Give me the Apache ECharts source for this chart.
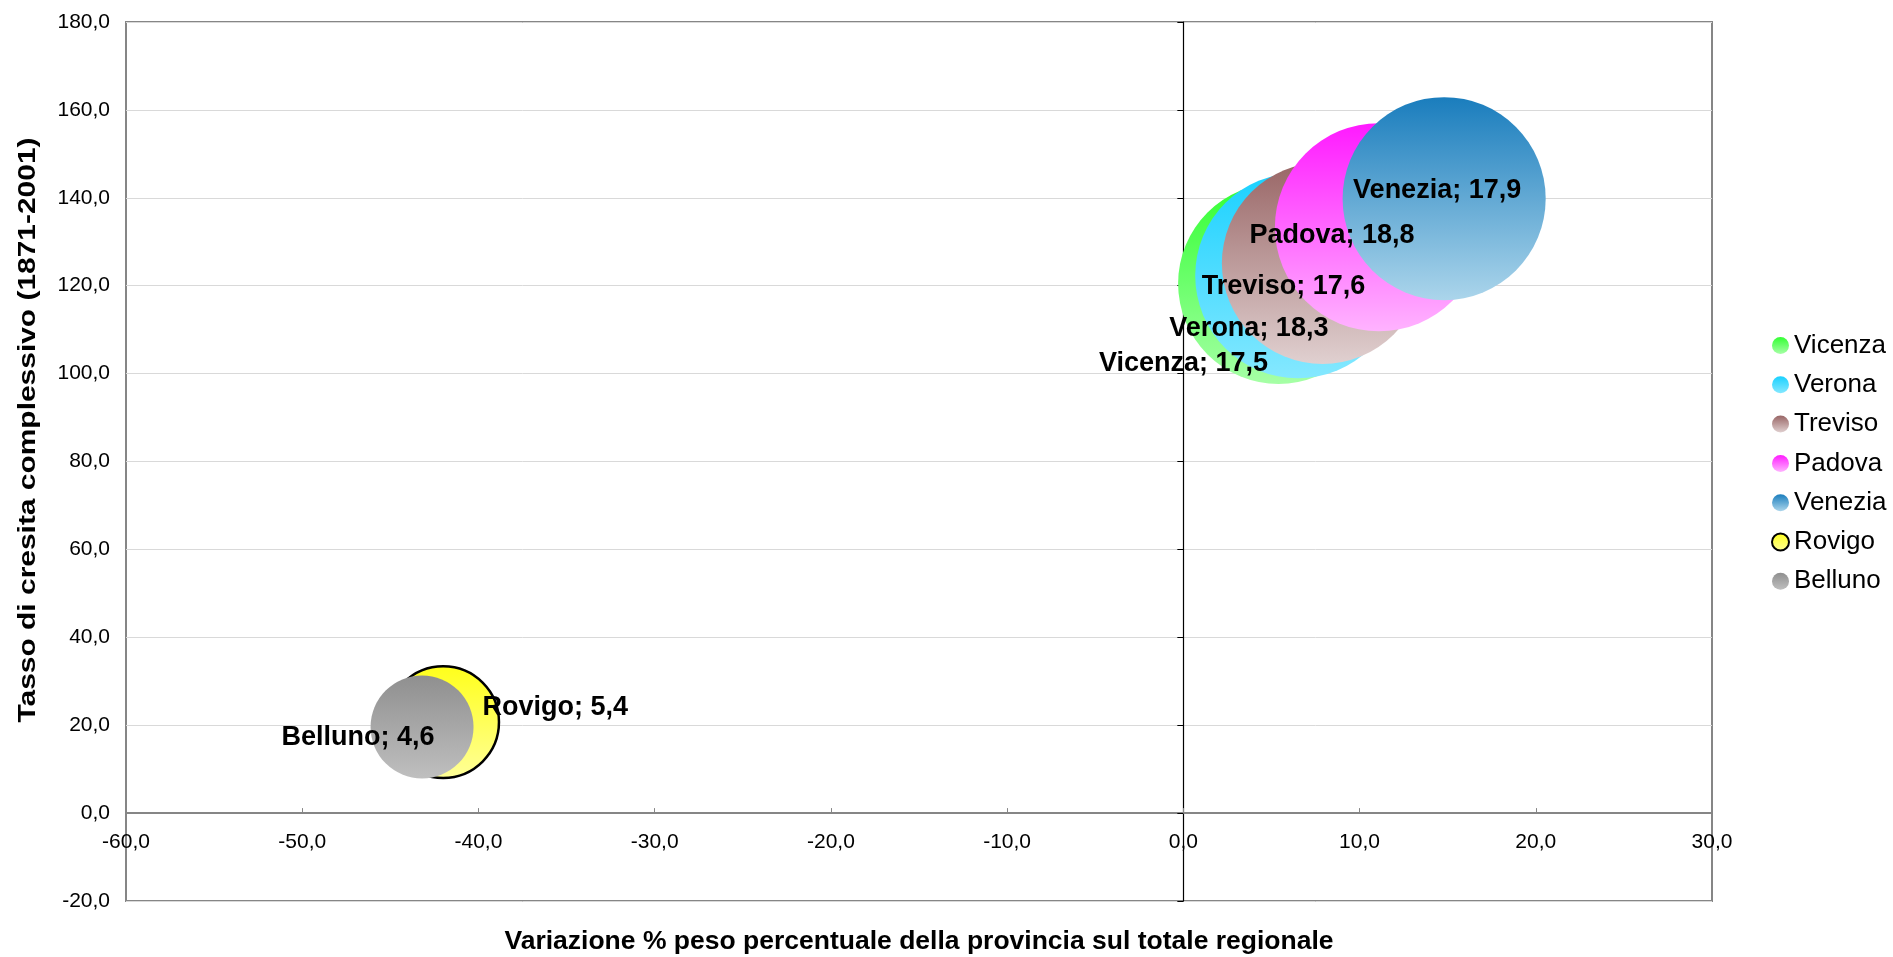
<!DOCTYPE html>
<html>
<head>
<meta charset="utf-8">
<script src="https://cdn.jsdelivr.net/npm/echarts@6/dist/echarts.min.js"></script>
<style>
html,body{margin:0;padding:0;background:#fff;}
#chart{width:1893px;height:957px;}
</style>
</head>
<body>
<div id="chart"></div>
<script>
// ---- data ----
const provinces = ['Vicenza', 'Verona', 'Treviso', 'Padova', 'Venezia', 'Rovigo', 'Belluno'];
const variazione = [5.4, 6.5, 7.9, 11.1, 14.8, -42.0, -43.2];   // x
const tasso = [120.5, 122.3, 125.1, 133.3, 139.8, 20.7, 19.6];  // y
const peso = [17.5, 18.3, 17.6, 18.8, 17.9, 5.4, 4.6];          // bubble size
const xAxisRange = [-60, 30, 10];
const yAxisRange = [-20, 180, 20];
const xTitle = 'Variazione % peso percentuale della provincia sul totale regionale';
const yTitle = 'Tasso di cresita complessivo (1871-2001)';

// ---- styles ----
const FONT = '"Liberation Sans", Arial, sans-serif';
const gradColors = [
  ['#33ff33', '#a6ffa6'],
  ['#1ad1ff', '#85e8ff'],
  ['#996666', '#e0d0d0'],
  ['#ff1aff', '#ffb3ff'],
  ['#1a7dbd', '#abd5eb'],
  ['#ffff1a', '#ffff99'],
  ['#8f8f8f', '#bfbfbf']
];
const borders = [null, null, null, null, null, {color: '#000', width: 2.5}, null];
const labelOffsets = [[-95, 80], [-49, 53], [-39, 23], [-47, 8], [-7, -8], [112, -15], [-64, 11]];
const bubbleK = 48;
const GRID = {left: 126, right: 181, top: 22, bottom: 56};
const CHART_W = 1893, CHART_H = 957;

function fmt(v) { return v.toFixed(1).replace('.', ','); }
function grad(c) {
  return new echarts.graphic.LinearGradient(0, 0, 0, 1, [
    {offset: 0, color: c[0]}, {offset: 1, color: c[1]}
  ]);
}

const series = provinces.map((name, i) => ({
  name: name,
  type: 'scatter',
  xAxisIndex: 0,
  yAxisIndex: 0,
  symbol: 'circle',
  symbolSize: (val) => bubbleK * Math.sqrt(val[2]),
  data: [[variazione[i], tasso[i], peso[i]]],
  itemStyle: Object.assign({color: grad(gradColors[i]), opacity: 1},
    borders[i] ? {borderColor: borders[i].color, borderWidth: borders[i].width} : {borderWidth: 0}),
  emphasis: {disabled: true},
  z: 2 + i
}));

series.push({
  name: 'labels',
  type: 'scatter',
  symbolSize: 1,
  silent: true,
  z: 20,
  itemStyle: {color: 'rgba(255,255,255,0)', opacity: 1},
  emphasis: {disabled: true},
  data: provinces.map((name, i) => ({
    value: [variazione[i], tasso[i], peso[i]],
    name: name,
    label: {offset: labelOffsets[i]}
  })),
  label: {
    show: true,
    position: 'inside',
    formatter: (p) => p.name + '; ' + fmt(p.value[2]),
    fontFamily: FONT,
    fontWeight: 'bold',
    fontSize: 27,
    color: '#000',
    opacity: 1,
    textBorderWidth: 0
  }
});

// distance from the x axis at y=0 to the plot bottom, so the tick labels sit under the zero line
const plotH = CHART_H - GRID.top - GRID.bottom;
const zeroToBottom = plotH * (0 - yAxisRange[0]) / (yAxisRange[1] - yAxisRange[0]);

const chart = echarts.init(document.getElementById('chart'), null, {renderer: 'canvas'});
chart.setOption({
  animation: false,
  backgroundColor: '#fff',
  grid: {
    left: GRID.left, right: GRID.right, top: GRID.top, bottom: GRID.bottom,
    containLabel: false,
    outerBoundsMode: 'none',
    show: true, borderColor: '#868686', borderWidth: 2, backgroundColor: '#fff'
  },
  legend: {
    data: provinces,
    orient: 'vertical',
    left: 1766,
    top: 327.5,
    icon: 'circle',
    itemWidth: 17,
    itemHeight: 17,
    itemGap: 13.3,
    textStyle: {fontFamily: FONT, fontSize: 26, lineHeight: 25, color: '#000'}
  },
  xAxis: {
    type: 'value',
    min: xAxisRange[0], max: xAxisRange[1], interval: xAxisRange[2],
    axisLine: {show: true, onZero: true, lineStyle: {color: '#868686', width: 2}},
    axisTick: {show: true, inside: true, length: 5, lineStyle: {color: '#868686'}},
    axisLabel: {formatter: fmt, fontFamily: FONT, fontSize: 21, color: '#000', margin: 19 - zeroToBottom},
    splitLine: {show: false}
  },
  yAxis: [{
    type: 'value',
    min: yAxisRange[0], max: yAxisRange[1], interval: yAxisRange[2],
    position: 'left',
    axisLine: {show: false, onZero: false},
    axisTick: {show: false},
    axisLabel: {formatter: fmt, fontFamily: FONT, fontSize: 21, color: '#000', margin: 16},
    splitLine: {show: true, lineStyle: {color: '#d9d9d9', width: 1}}
  }, {
    type: 'value',
    min: yAxisRange[0], max: yAxisRange[1], interval: yAxisRange[2],
    position: 'left',
    axisLine: {show: true, onZero: true, onZeroAxisIndex: 0, lineStyle: {color: '#000', width: 1.2}},
    axisTick: {show: true, inside: false, length: 6, lineStyle: {color: '#000'}},
    axisLabel: {show: false},
    splitLine: {show: false}
  }],
  graphic: [{
    type: 'text',
    x: 28,
    y: 430,
    rotation: Math.PI / 2,
    scaleX: 1.247,
    silent: true,
    style: {
      text: yTitle,
      font: 'bold 24px ' + FONT,
      fill: '#000',
      textAlign: 'center',
      textVerticalAlign: 'middle'
    }
  }, {
    type: 'text',
    x: GRID.left + (CHART_W - GRID.left - GRID.right) / 2,
    y: 942,
    silent: true,
    style: {
      text: xTitle,
      font: 'bold 26.5px ' + FONT,
      fill: '#000',
      textAlign: 'center',
      textVerticalAlign: 'middle'
    }
  }],
  series: series
});
</script>
</body>
</html>
